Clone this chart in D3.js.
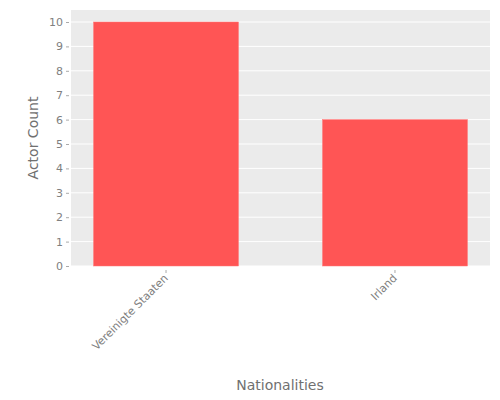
<!DOCTYPE html><html><head><script src="https://cdn.jsdelivr.net/npm/d3@7"></script>
<style>body{margin:0}text{font-family:"DejaVu Sans"}</style></head><body><svg width="500" height="400"></svg>
<script>
const categories=["Vereinigte Staaten","Irland"];
const values=[10,6];
const yTicks=[0,1,2,3,4,5,6,7,8,9,10];
const svg=d3.select("svg");
const L=71,R=490,T=10,B=266;
const x=d3.scaleBand().domain(categories).range([L,R]).paddingInner(0.367).paddingOuter(0.0985);
const y=d3.scaleLinear().domain([0,10]).range([B,22]);
svg.append("rect").attr("x",L).attr("y",T).attr("width",R-L).attr("height",B-T).attr("fill","#ebebeb");
svg.selectAll(".g").data(yTicks).enter().append("line").attr("x1",L).attr("x2",R).attr("y1",d=>y(d)).attr("y2",d=>y(d)).attr("stroke","#fff");
svg.selectAll(".b").data(values).enter().append("rect").attr("x",(d,i)=>x(categories[i])).attr("width",x.bandwidth()).attr("y",d=>y(d)).attr("height",d=>B-y(d)).attr("fill","#ff5555").attr("stroke","#ff7777").attr("stroke-width",0.5);
const ya=svg.append("g").attr("transform",`translate(${L-2},0)`).call(d3.axisLeft(y).tickValues(yTicks).tickSize(3).tickSizeOuter(0));
ya.select(".domain").remove();
ya.selectAll("line").attr("stroke","#aaa");
ya.selectAll("text").attr("fill","#808080").attr("font-size",11).attr("font-family","DejaVu Sans");
const xa=svg.append("g").attr("transform",`translate(0,${B+4})`).call(d3.axisBottom(x).tickSize(3).tickSizeOuter(0));
xa.select(".domain").remove();
xa.selectAll("line").attr("stroke","#aaa");
xa.selectAll("text").attr("fill","#808080").attr("font-size",11).attr("font-family","DejaVu Sans")
 .attr("text-anchor","end").attr("dy","0.35em").attr("transform","translate(0,6) rotate(-45)").attr("y",0).attr("x",0);
svg.append("text").attr("x",280).attr("y",390).attr("text-anchor","middle").attr("fill","#707070").attr("font-size",14).text("Nationalities");
svg.append("text").attr("transform",`translate(38,${(T+B)/2}) rotate(-90)`).attr("text-anchor","middle").attr("fill","#707070").attr("font-size",14).text("Actor Count");
</script></body></html>
